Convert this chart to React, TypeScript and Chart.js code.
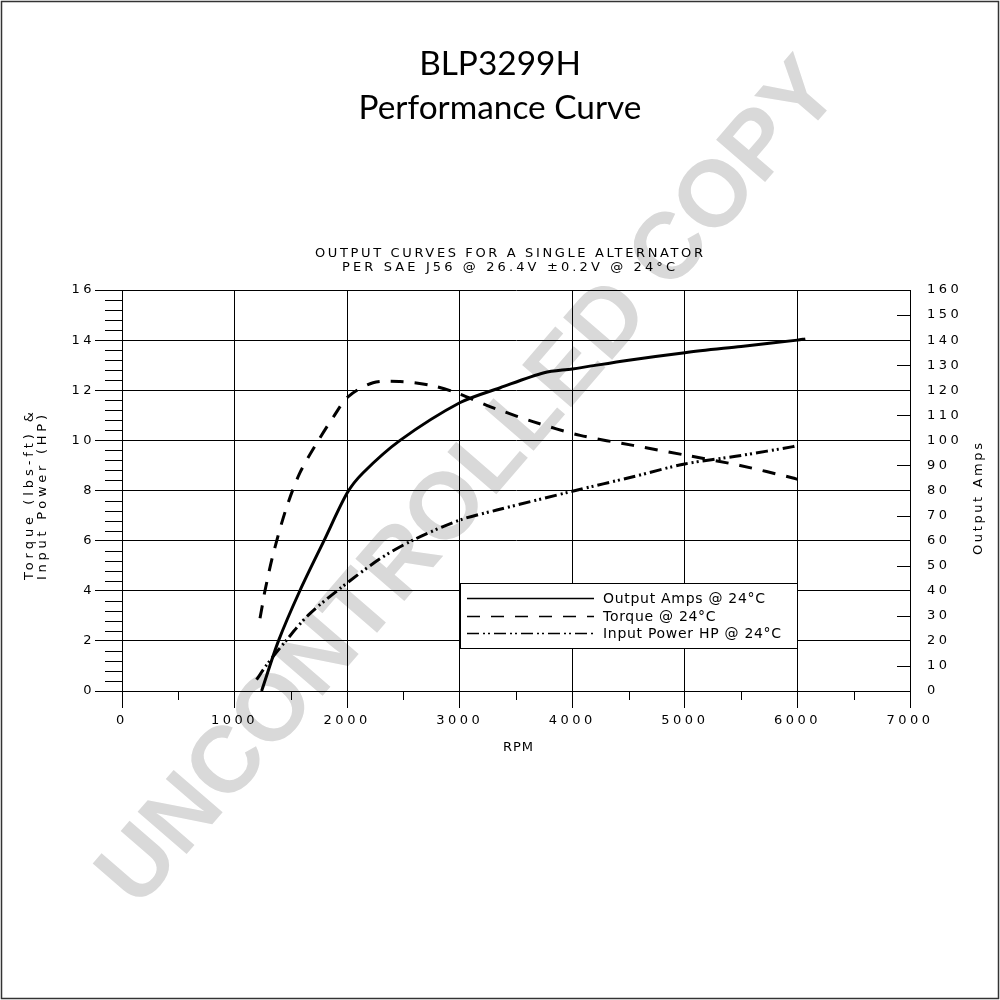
import React, { useEffect, useRef } from "react";
import { Chart, registerables } from "chart.js";

Chart.register(...registerables);

// ---- texts ----
const titleLines = ["BLP3299H", "Performance Curve"];
const subtitleLines = ["OUTPUT CURVES FOR A SINGLE ALTERNATOR", "PER SAE J56 @ 26.4V ±0.2V @ 24°C"];
const leftAxisTitle = ["Torque (lbs-ft) &", "Input Power (HP)"];
const rightAxisTitle = "Output Amps";
const xAxisTitle = "RPM";
const watermarkText = "UNCONTROLLED COPY";
const legendLabels = ["Output Amps @ 24°C", "Torque @ 24°C", "Input Power HP @ 24°C"];

// ---- data ----
const ampsRpm = [1240, 1390, 1580, 1800, 2000, 2140, 2470, 3000, 3360, 3750, 4000, 4500, 5000, 5500, 6000, 6070];
const ampsValues = [0, 20, 40, 60.5, 79, 87, 100, 115, 121, 127, 128.5, 132, 135, 137.5, 140, 140.5];

const torqueRpm = [1226, 1250, 1270, 1345, 1460, 1580, 1745, 1880, 2010, 2230, 2470, 2740, 2970, 3240, 3360, 3650, 4070, 4540, 5020, 5490, 5960, 6000];
const torqueValues = [2.9, 3.5, 4.0, 5.5, 7.3, 8.7, 10.0, 10.95, 11.75, 12.3, 12.35, 12.2, 11.9, 11.4, 11.2, 10.75, 10.2, 9.8, 9.4, 9.0, 8.5, 8.45];

const powerRpm = [1195, 1285, 1450, 1655, 1940, 2300, 2590, 3000, 3330, 4010, 4540, 5000, 5500, 5960, 6000];
const powerValues = [0.45, 1.04, 1.97, 3.03, 4.1, 5.3, 6.03, 6.82, 7.22, 7.98, 8.55, 9.06, 9.4, 9.75, 9.8];

// ---- axes ----
const rpmMin = 0, rpmMax = 7000, rpmStep = 1000, rpmMinorStep = 500;
const leftMin = 0, leftMax = 16, leftStep = 2, leftMinorStep = 0.4;
const rightMin = 0, rightMax = 160, rightStep = 10;

const TICK_FONT = "DejaVu Sans";
const TICK_SPACING = "3.5px";
const torqueDash = [13, 11];
const powerDash = [12, 4, 2, 3, 2, 4];

function spacedText(ctx: any, text: string, x: number, y: number, font: string, align: string, targetWidth: number | null, spacing = 0, baseline = "alphabetic") {
  ctx.save();
  ctx.font = font;
  ctx.letterSpacing = "0px";
  const w0 = ctx.measureText(text).width;
  let sp = spacing;
  if (targetWidth != null && text.length > 1) sp = (targetWidth - w0) / (text.length - 1);
  ctx.letterSpacing = sp + "px";
  const vis = w0 + sp * (text.length - 1);
  let sx = x;
  if (align === "center") sx = x - vis / 2;
  else if (align === "right") sx = x - vis;
  ctx.textAlign = "left";
  ctx.textBaseline = baseline;
  ctx.fillStyle = "#000";
  ctx.fillText(text, sx, y);
  ctx.restore();
  return sp;
}

function fitFont(ctx: any, text: string, family: string, weight: string, targetWidth: number) {
  ctx.save();
  ctx.letterSpacing = "0px";
  ctx.font = `${weight} 100px ${family}`;
  const w = ctx.measureText(text).width;
  ctx.restore();
  return (100 * targetWidth) / w;
}

const decorPlugin = {
  id: "decor",
  beforeUpdate(chart: any) {
    chart.ctx.letterSpacing = TICK_SPACING;
  },
  beforeDraw(chart: any) {
    const ctx = chart.ctx;
    ctx.save();
    ctx.fillStyle = "#fff";
    ctx.fillRect(0, 0, 1000, 1000);
    // watermark
    const size = fitFont(ctx, watermarkText, "'Liberation Sans'", "bold", 1080);
    ctx.translate(465, 479);
    ctx.rotate(Math.atan2(-778, 670));
    ctx.font = `bold ${size}px 'Liberation Sans'`;
    ctx.letterSpacing = "0px";
    ctx.fillStyle = "#d9d9d9";
    ctx.textAlign = "center";
    ctx.textBaseline = "alphabetic";
    ctx.fillText(watermarkText, 0, size * 0.716 / 2);
    ctx.restore();
    // frame
    ctx.save();
    ctx.strokeStyle = "#333";
    ctx.lineWidth = 1.5;
    ctx.strokeRect(1.5, 1.5, 997, 997);
    ctx.restore();
    ctx.letterSpacing = TICK_SPACING;
  },
  beforeDatasetsDraw(chart: any) {
    const ctx = chart.ctx;
    const { x, y, y2 } = chart.scales;
    const area = chart.chartArea;
    ctx.save();
    ctx.strokeStyle = "#000";
    ctx.lineWidth = 1;
    ctx.beginPath();
    // left minor ticks
    for (let k = 1; k * leftMinorStep < leftMax - 1e-6; k++) {
      const v = k * leftMinorStep;
      if (Math.abs(v / leftStep - Math.round(v / leftStep)) < 1e-6) continue;
      const py = Math.round(y.getPixelForValue(v)) + 0.5;
      ctx.moveTo(area.left - 17, py);
      ctx.lineTo(area.left, py);
    }
    // x minor ticks
    for (let v = rpmMinorStep; v < rpmMax; v += rpmStep) {
      const px = Math.round(x.getPixelForValue(v)) + 0.5;
      ctx.moveTo(px, area.bottom);
      ctx.lineTo(px, area.bottom + 9);
    }
    // right minor ticks (odd tens, inward)
    for (let v = rightStep; v < rightMax; v += 2 * rightStep) {
      const py = Math.round(y2.getPixelForValue(v)) + 0.5;
      ctx.moveTo(area.right - 13, py);
      ctx.lineTo(area.right, py);
    }
    ctx.stroke();
    ctx.restore();
  },
  afterDatasetsDraw(chart: any) {
    const ctx = chart.ctx;
    // legend box
    ctx.save();
    ctx.fillStyle = "#fff";
    ctx.fillRect(460, 583, 338, 65);
    ctx.strokeStyle = "#000";
    ctx.lineWidth = 1;
    ctx.strokeRect(460.5, 583.5, 337, 65);
    const rows = [598, 616, 633];
    const dashes = [[], torqueDash, powerDash];
    chart.data.datasets.forEach((ds: any, i: number) => {
      ctx.beginPath();
      ctx.setLineDash(dashes[i]);
      ctx.lineWidth = 1.5;
      ctx.moveTo(467, rows[i] + 0.5);
      ctx.lineTo(594, rows[i] + 0.5);
      ctx.stroke();
    });
    ctx.setLineDash([]);
    ctx.restore();
    const lf = `14px '${TICK_FONT}'`;
    const sp = spacedText(ctx, legendLabels[0], 603, 603, lf, "left", 162);
    spacedText(ctx, legendLabels[1], 603, 621, lf, "left", null, sp);
    spacedText(ctx, legendLabels[2], 603, 638, lf, "left", null, sp);

    // titles
    const t1 = fitFont(ctx, titleLines[0], "Lato", "normal", 155);
    const t2 = fitFont(ctx, titleLines[1], "Lato", "normal", 295);
    const ts = (t1 + t2) / 2;
    spacedText(ctx, titleLines[0], 500, 75, `normal ${ts}px Lato`, "center", null, 0);
    spacedText(ctx, titleLines[1], 500, 119, `normal ${ts}px Lato`, "center", null, 0);
    spacedText(ctx, subtitleLines[0], 509, 257, `13px '${TICK_FONT}'`, "center", 388);
    spacedText(ctx, subtitleLines[1], 508.5, 271, `13px '${TICK_FONT}'`, "center", 333);

    // axis titles
    spacedText(ctx, xAxisTitle, 518, 751, `13px '${TICK_FONT}'`, "center", 30);
    ctx.save();
    ctx.translate(30, 580);
    ctx.rotate(-Math.PI / 2);
    spacedText(ctx, leftAxisTitle[0], 0, 0, `13px '${TICK_FONT}'`, "left", 168, 0, "middle");
    ctx.restore();
    ctx.save();
    ctx.translate(43, 580);
    ctx.rotate(-Math.PI / 2);
    spacedText(ctx, leftAxisTitle[1], 0, 0, `13px '${TICK_FONT}'`, "left", 165, 0, "middle");
    ctx.restore();
    ctx.save();
    ctx.translate(979, 499);
    ctx.rotate(-Math.PI / 2);
    spacedText(ctx, rightAxisTitle, 0, 0, `13px '${TICK_FONT}'`, "center", 112, 0, "middle");
    ctx.restore();
    ctx.letterSpacing = TICK_SPACING;
  },
};

function pts(xs: number[], ys: number[]) {
  return xs.map((x, i) => ({ x, y: ys[i] }));
}

export default function App() {
  const ref = useRef<HTMLCanvasElement | null>(null);
  useEffect(() => {
    document.body.style.margin = "0";
    const canvas = ref.current!;
    const tickFont = { family: TICK_FONT, size: 13 };
    const line = { borderColor: "#000", borderWidth: 3, pointRadius: 0, fill: false, tension: 0.3 };
    const chart = new Chart(canvas, {
      type: "line",
      data: {
        datasets: [
          { ...line, label: legendLabels[0], data: pts(ampsRpm, ampsValues), yAxisID: "y2" },
          { ...line, label: legendLabels[1], data: pts(torqueRpm, torqueValues), yAxisID: "y", borderDash: torqueDash },
          { ...line, label: legendLabels[2], data: pts(powerRpm, powerValues), yAxisID: "y", borderDash: powerDash },
        ],
      } as any,
      options: {
        responsive: false,
        animation: false,
        events: [],
        layout: { padding: { top: 290, left: 0, right: 0, bottom: 0 } },
        plugins: { legend: { display: false }, tooltip: { enabled: false }, title: { display: false } },
        scales: {
          x: {
            type: "linear",
            min: rpmMin,
            max: rpmMax,
            ticks: { stepSize: rpmStep, callback: (v: any) => String(v), font: tickFont, color: "#000", padding: 5, maxRotation: 0, autoSkip: false },
            grid: { color: "#000", lineWidth: 1, tickLength: 17 },
            border: { color: "#000", width: 1 },
            afterFit: (s: any) => { s.height = 309; },
          },
          y: {
            type: "linear",
            position: "left",
            min: leftMin,
            max: leftMax,
            ticks: { stepSize: leftStep, callback: (v: any) => String(v), font: tickFont, color: "#000", padding: 0, autoSkip: false },
            grid: { color: "#000", lineWidth: 1, tickLength: 27 },
            border: { color: "#000", width: 1 },
            afterFit: (s: any) => { s.width = 122; },
          },
          y2: {
            type: "linear",
            position: "right",
            min: rightMin,
            max: rightMax,
            ticks: { stepSize: rightStep, callback: (v: any) => String(v), font: tickFont, color: "#000", padding: 17, autoSkip: false },
            grid: { drawOnChartArea: false, drawTicks: false },
            border: { color: "#000", width: 1 },
            afterFit: (s: any) => { s.width = 90; },
          },
        },
      } as any,
      plugins: [decorPlugin],
    });
    return () => chart.destroy();
  }, []);
  return (
    <div style={{ position: "absolute", left: 0, top: 0, width: 1000, height: 1000 }}>
      <canvas ref={ref} width={1000} height={1000} style={{ display: "block", width: 1000, height: 1000 }} />
    </div>
  );
}
